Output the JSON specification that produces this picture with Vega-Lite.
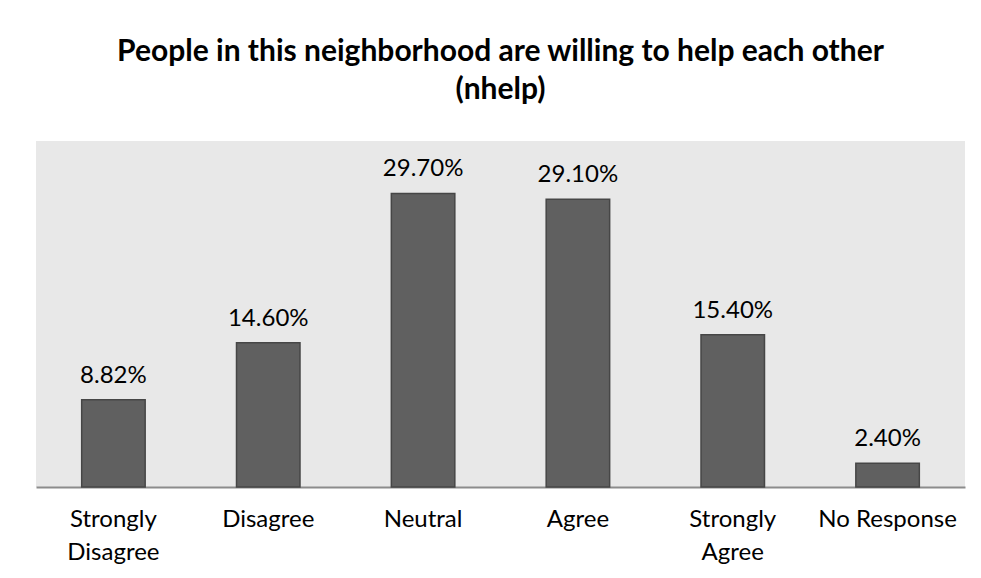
{
  "$schema": "https://vega.github.io/schema/vega-lite/v6.json",
  "autosize": "none",
  "width": 929,
  "height": 346,
  "padding": {"left": 36, "top": 141, "right": 16, "bottom": 91},
  "background": "white",
  "title": {
    "text": ["People in this neighborhood are willing to help each other", "(nhelp)"],
    "font": "Lato",
    "fontSize": 30,
    "fontWeight": "bold",
    "color": "black",
    "lineHeight": 38,
    "anchor": "middle",
    "offset": 36
  },
  "config": {
    "view": {"fill": "#e8e8e8", "stroke": null},
    "font": "Lato"
  },
  "data": {
    "values": [
      {"response": "Strongly Disagree", "pct": 0.0882},
      {"response": "Disagree", "pct": 0.146},
      {"response": "Neutral", "pct": 0.297},
      {"response": "Agree", "pct": 0.291},
      {"response": "Strongly Agree", "pct": 0.154},
      {"response": "No Response", "pct": 0.024}
    ]
  },
  "encoding": {
    "x": {
      "field": "response",
      "type": "nominal",
      "sort": null,
      "scale": {"paddingInner": 0.59, "paddingOuter": 0.295},
      "axis": {
        "title": null,
        "labelAngle": 0,
        "labelFont": "Lato",
        "labelFontSize": 24,
        "labelColor": "black",
        "labelPadding": 20,
        "labelLineHeight": 33,
        "labelBaseline": "top",
        "ticks": false,
        "grid": false,
        "domainColor": "#8c8c8c",
        "domainWidth": 2,
        "labelExpr": "indexof(datum.label, 'Strongly') == 0 ? split(datum.label, ' ') : datum.label"
      }
    },
    "y": {
      "field": "pct",
      "type": "quantitative",
      "scale": {"domain": [0, 0.35]},
      "axis": null
    }
  },
  "layer": [
    {
      "mark": {"type": "bar", "fill": "#606060", "stroke": "#464646", "strokeWidth": 1.5}
    },
    {
      "mark": {"type": "text", "baseline": "alphabetic", "dy": -17, "font": "Lato", "fontSize": 24, "color": "black"},
      "encoding": {
        "text": {"field": "pct", "type": "quantitative", "format": ".2%"}
      }
    }
  ]
}
